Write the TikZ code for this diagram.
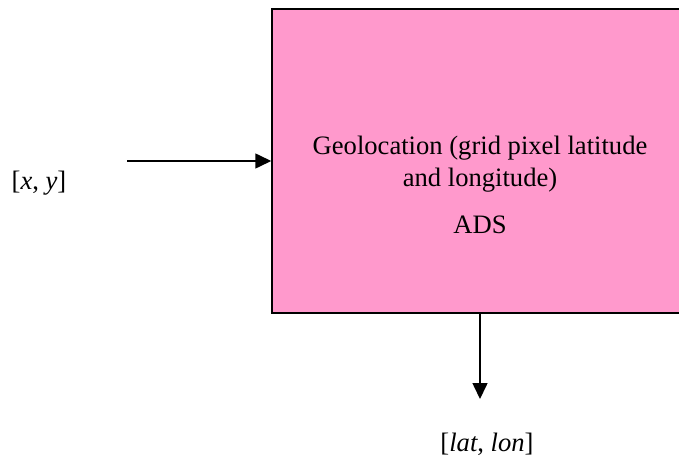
\documentclass[tikz,border=0pt]{standalone}
\usepackage{fontspec}
\setmainfont{Liberation Serif}
\usetikzlibrary{arrows.meta}
\definecolor{boxpink}{RGB}{255,153,204}
\tikzset{
  procbox/.style={draw=black, fill=boxpink, line width=1.5pt, rectangle, inner sep=0pt,
    minimum width=416pt, minimum height=304pt},
  lbl/.style={anchor=base, inner sep=0pt, font=\fontsize{26.6}{31}\selectfont},
  conn/.style={line width=1.6pt, -{Triangle[length=16pt,width=15pt]}}
}
\begin{document}
\begin{tikzpicture}[x=1pt,y=-1pt]
\useasboundingbox (0,0) rectangle (679,457);
\clip (0,0) rectangle (679,457);
\node[procbox] (box) at (480,161) {};
\node[lbl] (l1) at (480,154) {Geolocation (grid pixel latitude};
\node[lbl] (l2) at (480,186) {and longitude)};
\node[lbl] (ads) at (480,233) {ADS};
\node[lbl] (xy) at (39,189) {[\textit{x}, \textit{y}]};
\node[lbl] (latlon) at (487,451) {[\textit{lat}, \textit{lon}]};
\coordinate (in) at (127,161);
\coordinate (out) at (480,399);
\draw[conn] (in) -- (box.west);
\draw[conn] (box.south) -- (out);
\end{tikzpicture}
\end{document}
